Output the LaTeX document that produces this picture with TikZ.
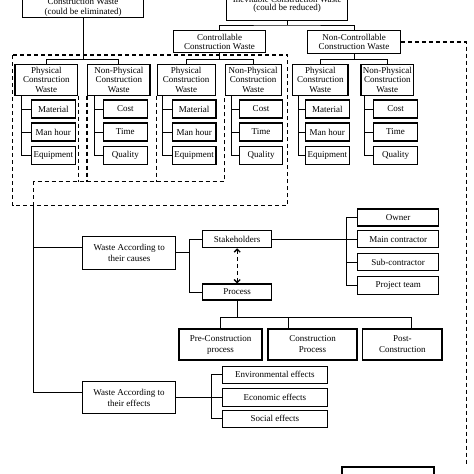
\documentclass[tikz,border=0pt]{standalone}
\usepackage{fontspec}
\setmainfont{Liberation Serif}
\usetikzlibrary{arrows.meta}
\tikzset{
  wbox/.style={draw, line width=1.1pt, align=center, inner sep=0pt, font=\fontsize{9}{9.5}\selectfont},
  wtall/.style={wbox, font=\fontsize{9}{11}\selectfont},
  conn/.style={line width=0.8pt},
  dashline/.style={line width=1.3pt, dash pattern=on 4pt off 3pt},
}
\begin{document}
\begin{tikzpicture}[x=1pt,y=-1pt]
	\useasboundingbox (0,0) rectangle (474,474);
	\clip (0,0) rectangle (474,474);
	
	% top level
	\node[wbox, minimum width=120.6pt, anchor=south, inner ysep=1.5pt] (avoid) at (83,18.3) {Construction Waste\\(could be eliminated)};
	\node[wbox, minimum width=121pt, anchor=south, inner ysep=7.5pt] (inev) at (287.2,20.7) {Inevitable Construction Waste\\[-1.5pt](could be reduced)};
	\node[wbox, minimum width=92.4pt, minimum height=22pt] (ctrl) at (219.5,41.7) {Controllable\\Construction Waste};
	\node[wbox, minimum width=92.6pt, minimum height=22.6pt] (nonctrl) at (354,42) {Non-Controllable\\Construction Waste};
	
	% physical / non-physical groups
	\node[wbox, minimum width=62.7pt, minimum height=30.7pt] (A1) at (46.3,79.7) {Physical\\Construction\\Waste};
	\node[wbox, minimum width=62.3pt, minimum height=30.7pt] (A2) at (118.8,79.7) {Non-Physical\\Construction\\Waste};
	\node[wbox, minimum width=57.7pt, minimum height=30.7pt] (C1) at (186.2,79.7) {Physical\\Construction\\Waste};
	\node[wbox, minimum width=56.3pt, minimum height=30.7pt] (C2) at (253.2,79.7) {Non-Physical\\Construction\\Waste};
	\node[wbox, minimum width=55.3pt, minimum height=30.7pt] (N1) at (320.3,79.7) {Physical\\Construction\\Waste};
	\node[wbox, minimum width=52.7pt, minimum height=30.7pt] (N2) at (387.3,79.7) {Non-Physical\\Construction\\Waste};
	
	\foreach \g/\x in {A1/53.3, C1/194.2, N1/327.3}{
		\node[wbox, minimum width=43.5pt, minimum height=18pt] (\g-a) at (\x,109) {Material};
		\node[wbox, minimum width=43.5pt, minimum height=18pt] (\g-b) at (\x,132) {Man hour};
		\node[wbox, minimum width=43.5pt, minimum height=18pt] (\g-c) at (\x,155.5) {Equipment};
	}
	\foreach \g/\x in {A2/125.3, C2/261, N2/395.5}{
		\node[wbox, minimum width=43.5pt, minimum height=18pt] (\g-a) at (\x,109) {Cost};
		\node[wbox, minimum width=43.5pt, minimum height=18pt] (\g-b) at (\x,132) {Time};
		\node[wbox, minimum width=43.5pt, minimum height=18pt] (\g-c) at (\x,155.5) {Quality};
	}
	
	% causes
	\node[wtall, minimum width=93pt, minimum height=33.3pt] (causes) at (129.2,252.7) {Waste According to\\their causes};
	\node[wbox, minimum width=69pt, minimum height=17pt] (stake) at (237.2,239.2) {Stakeholders};
	\node[wbox, minimum width=69pt, minimum height=16pt] (proc) at (237.2,292) {Process};
	\node[wbox, minimum width=81pt, minimum height=17pt] (owner) at (398.2,217.5) {Owner};
	\node[wbox, minimum width=81pt, minimum height=17pt] (maincon) at (398.2,239.2) {Main contractor};
	\node[wbox, minimum width=81pt, minimum height=17pt] (subcon) at (398.2,262.3) {Sub-contractor};
	\node[wbox, minimum width=81pt, minimum height=18pt] (team) at (398.2,285.5) {Project team};
	\node[wtall, minimum width=83pt, minimum height=31pt] (pre) at (220.5,344.5) {Pre-Construction\\process};
	\node[wtall, minimum width=89pt, minimum height=31pt] (cons) at (312.5,344.5) {Construction\\Process};
	\node[wtall, minimum width=79.3pt, minimum height=31pt] (post) at (402.3,344.5) {Post-\\Construction};
	
	% effects
	\node[wtall, minimum width=93.4pt, minimum height=31.6pt] (effects) at (129,397.5) {Waste According to\\their effects};
	\node[wbox, minimum width=104.3pt, minimum height=17.3pt] (env) at (274.9,374.7) {Environmental effects};
	\node[wbox, minimum width=104.3pt, minimum height=17.3pt] (econ) at (274.9,397.5) {Economic effects};
	\node[wbox, minimum width=104.3pt, minimum height=17.3pt] (social) at (274.9,418.7) {Social effects};
	
	\node[wbox, minimum width=92pt, minimum height=30pt] (next) at (388,482) {};
	
	% branch points
	\coordinate (bA) at (83,59.3);
	\coordinate (bI) at (287.2,25);
	\coordinate (bC) at (219.5,59.3);
	\coordinate (bN) at (354,59.3);
	\coordinate (bD) at (33.7,181.5);
	\coordinate (bL) at (33.7,205.5);
	\coordinate (bW) at (189.3,252.7);
	\coordinate (bS) at (346.3,0);
	\coordinate (tC) at (288.7,317.3);
	\coordinate (tP) at (411,317.3);
	\coordinate (bE) at (211.7,0);
	\coordinate (rD) at (466.3,466);
	
	% connectors
	\draw[conn] (avoid) -- (bA);
	\draw[conn] (A1.north) |- (bA) -| (A2.north);
	\draw[conn] (inev) -- (bI);
	\draw[conn] (ctrl.north) |- (bI) -| (nonctrl.north);
	\draw[conn] (ctrl) -- (bC);
	\draw[conn] (C1.north) |- (bC) -| (C2.north);
	\draw[conn] (nonctrl) -- (bN);
	\draw[conn] (N1.north) |- (bN) -| (N2.north);
	\foreach \g/\s in {A1/6.7, A2/7.3, C1/6, C2/6.7, N1/6, N2/4.3}
		\foreach \i in {a,b,c}
			\draw[conn] ([xshift=\s pt]\g.south west) |- (\g-\i.west);
	
	\draw[conn] (bL) |- ([yshift=5pt]causes.west);
	\draw[conn] (bL) |- ([yshift=4.8pt]effects.west);
	\draw[conn] (causes) -- (bW);
	\draw[conn] (stake.west) -| (bW) |- (proc.west);
	\draw[dashline, {Straight Barb[length=3pt,width=6pt]}-{Straight Barb[length=3pt,width=6pt]}] (stake) -- (proc);
	\draw[conn] (stake) -- (maincon);
	\draw[conn] (owner.west) -| (bS |- team.west) -- (team.west);
	\draw[conn] (subcon.west) -- (subcon.west -| bS);
	\draw[conn] (proc) -- (proc.south |- tC);
	\draw[conn] (pre.north) |- (tP) -- (tP |- post.north);
	\draw[conn] (tC) -- (tC |- cons.north);
	\draw[conn] (effects) -- (econ);
	\draw[conn] (env.west) -| (bE |- social.west) -- (social.west);
	
	% dashed links
	\draw[dashline] (12.7,55) rectangle (287.7,205.5);
	\draw[dashline] (A1.south east) -- (A1.south east |- bD);
	\draw[dashline] (A2.south west) -- (A2.south west |- bD);
	\draw[dashline] (C1.south west) -- (C1.south west |- bD);
	\draw[dashline] (bL) -- (bD) -| (C2.south west);
	\draw[dashline] (nonctrl.east) -| (rD);
\end{tikzpicture}
\end{document}
